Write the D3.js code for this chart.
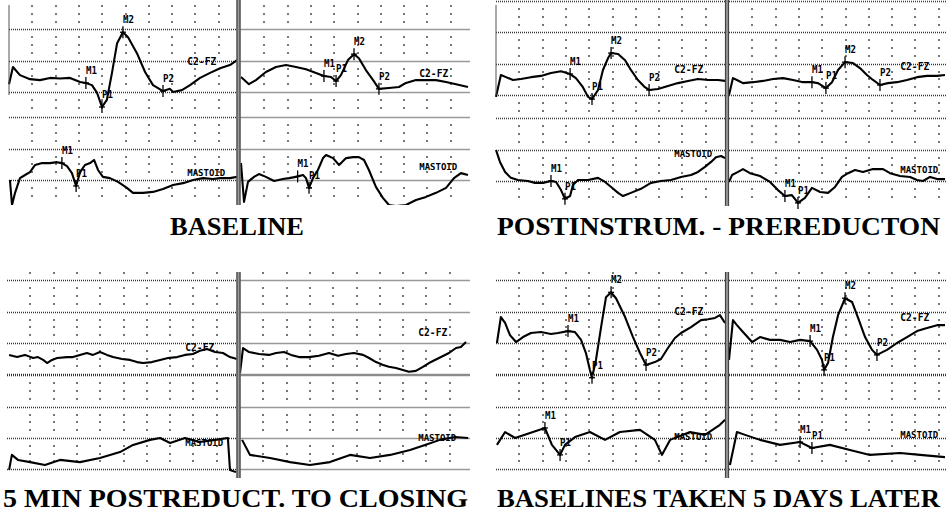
<!DOCTYPE html>
<html><head><meta charset="utf-8">
<script src="https://cdn.jsdelivr.net/npm/d3@7"></script>
<style>body{margin:0;background:#fff}svg{display:block}</style>
</head><body>
<svg id="c" width="946" height="522"></svg>
<script>
// ---------------- DATA (time in ms per half-sweep, amplitude: 10 units = 1 grid division, up = positive) -------------
const panelTitles = ["BASELINE", "POSTINSTRUM. - PREREDUCTON", "5 MIN POSTREDUCT. TO CLOSING", "BASELINES TAKEN 5 DAYS LATER"];
const channelNames = ["C2-FZ", "MASTOID"];

// Panel 1: BASELINE
const baseC2Left = [[0,2.5],[1.7,8.0],[4.7,5.4],[9,4.1],[13.3,3.8],[17.6,4.5],[21.9,4.3],[26.2,4.5],[30.5,3.2],[33,2.9],[35.6,2.2],[37.8,-0.3],[39.9,-4.8],[42,-2.5],[44.2,6.1],[46.4,15.6],[48.9,19.1],[51.1,17.5],[54.9,12.4],[58.4,6.4],[61.8,2.2],[66.1,0.3],[69.1,1.0],[70.4,0],[74.2,0.6],[77.7,2.2],[82,4.5],[86.3,6.1],[90.6,7.6],[94.8,8.6],[97.9,10.2]];
const baseC2Right = [[0,4.8],[3.4,2.5],[6.4,3.8],[10.7,6.4],[15,8.0],[19.3,8.6],[23.6,8.0],[27.9,7.3],[32.2,6.1],[35.6,5.1],[38.6,4.8],[40.8,3.5],[42.9,5.4],[45.9,10.2],[48.5,12.1],[50.6,10.8],[53.6,7.0],[56.7,3.8],[59.2,1.0],[63.5,1.3],[67.8,1.6],[70.8,2.9],[75.1,3.8],[79.4,3.8],[83.7,3.8],[88,3.2],[92.3,2.5],[97.4,1.6]];
const baseMastLeft = [[0.4,0],[1.3,-8],[2.6,-4.1],[4.7,0.6],[6.9,1.6],[9,2.5],[11.2,4.8],[14.2,5.4],[17.6,5.4],[20.6,5.7],[22.7,5.4],[24.9,4.4],[27,2.2],[28.8,-1.9],[30.5,2.5],[32.6,4.8],[34.8,5.4],[36.5,6.4],[38.2,3.2],[40.3,1.0],[43.3,0.6],[46.8,-0.6],[50.6,-2.5],[53.2,-4.1],[57.5,-4.1],[61.8,-3.8],[66.1,-2.9],[70.4,-1.6],[74.7,-1.0],[79,0],[83.3,0.6],[87.6,0.3],[90.6,0.6],[94.8,0.6],[97.9,1.0]];
const baseMastRight = [[0,5.4],[1.3,-7.0],[3,-0.6],[5.6,1.0],[7.7,1.9],[10.7,1.0],[14.2,-0.3],[18,0.3],[20.6,0.6],[23.6,1.0],[26.6,1.6],[27.9,0.6],[29.2,-2.5],[30.9,0.6],[33,3.2],[35.2,7.0],[36.5,8.0],[39.5,7.0],[42.1,4.8],[45.1,7.0],[48.1,7.3],[50.6,7.3],[52.8,6.4],[54.9,3.2],[57.9,-2.2],[60.9,-5.7],[63.5,-8.0],[66.5,-8.3],[70.8,-8.0],[75.1,-6.4],[79.4,-5.4],[83.7,-4.1],[88,-2.5],[91.4,0.6],[94.4,2.2],[97.4,1.6]];

// Panel 2: POSTINSTRUM. - PREREDUCTON
const postC2Left = [[0,-0.6],[2.1,6.4],[4.3,5.7],[7.3,4.8],[10.7,5.1],[15,5.7],[19.3,6.1],[23.6,7.0],[27.9,7.6],[31.8,6.7],[34.3,5.4],[37.3,2.5],[39.5,-0.6],[41.2,-1.3],[43.8,1.6],[45.9,8.0],[48.1,11.8],[49.4,13.4],[52.4,13.1],[55.4,11.1],[57.9,8.0],[60.9,4.8],[63.9,2.5],[65.7,1.6],[69.5,1.9],[73.8,2.9],[78.1,3.8],[82.4,4.5],[86.7,5.1],[91,4.8],[95.3,4.8],[98.3,4.5]];
const postC2Right = [[0,0],[1.7,5.4],[3.4,4.8],[6,3.8],[10.3,4.1],[14.6,4.5],[18.9,5.1],[23.2,5.4],[27.5,4.8],[31.8,4.1],[35.6,4.1],[38.2,3.8],[41.6,2.2],[44.2,4.1],[46.8,8.0],[49.8,10.5],[53.2,10.2],[56.2,8.6],[59.2,6.4],[61.8,4.8],[64.8,3.2],[68.2,3.8],[72.1,4.1],[76.4,4.8],[80.7,5.7],[85,6.1],[89.3,6.1],[92.7,6.4]];
const postMastLeft = [[0,9.9],[1.7,6.1],[3.9,2.9],[6.4,1.0],[9.4,0.3],[13.7,0],[16.7,-0.6],[20.2,-0.6],[23.6,0],[25.8,-0.3],[27.9,-2.9],[29.6,-5.7],[31.8,-4.8],[33,-1.3],[35.2,0.3],[39.5,0.3],[43.8,1.0],[46.8,-0.3],[49.4,-1.9],[52.4,-3.8],[54.5,-4.8],[57.9,-3.8],[62.2,-2.5],[66.5,-0.6],[70.8,0],[75.1,0.3],[79.4,1.3],[83.7,1.9],[86.7,2.9],[89.7,4.5],[92.3,6.1],[94.4,7.6],[96.6,8.0],[98.3,7.3]];
const postMastRight = [[0,-0.3],[1.3,1.9],[3.9,2.9],[6,3.8],[9,2.5],[13.3,1.6],[17.6,-0.3],[21,-2.9],[24,-4.8],[27,-4.5],[29.6,-7.0],[32.6,-5.4],[35.6,-2.2],[39.1,-3.5],[42.5,-3.8],[45.5,-1.9],[48.5,1.3],[51.1,2.5],[54.1,3.5],[57.5,2.9],[61.8,3.8],[66.1,3.8],[69.1,2.5],[73.4,1.6],[77.7,1.3],[80.7,0.3],[83.3,0],[86.3,1.3],[89.3,0.6],[92.7,0.6]];

// Panel 3: 5 MIN POSTREDUCT. TO CLOSING
const closeC2Left = [[0.9,-3.8],[4.3,-4.5],[7.7,-3.8],[11.2,-4.8],[13.3,-4.5],[15.5,-5.4],[17.2,-6.4],[19.3,-5.4],[21.5,-4.8],[25.8,-4.5],[28.3,-4.5],[31.3,-3.8],[34.3,-3.2],[36.9,-3.8],[39.9,-2.9],[42.9,-3.8],[45.5,-4.5],[49.4,-5.1],[52.8,-5.4],[55.8,-6.1],[58.4,-6.4],[62.2,-6.1],[65.7,-5.4],[69.1,-4.8],[73,-4.5],[76.4,-3.8],[79.8,-3.5],[82.8,-2.5],[85.8,-1.9],[89.3,-2.9],[92.7,-3.2],[95.7,-4.5],[98.7,-5.1]];
const closeC2Right = [[0,-9.6],[1.3,-1.6],[3.9,-2.9],[8.2,-3.5],[12.4,-3.8],[15.5,-3.2],[18.9,-2.9],[21.9,-3.8],[25.3,-4.5],[29.6,-4.5],[33.9,-4.1],[38.2,-3.2],[42.1,-4.1],[45.5,-3.5],[48.9,-3.2],[52.8,-3.8],[55.4,-4.8],[58.4,-6.1],[61.4,-7.0],[63.9,-7.6],[66.9,-8.0],[69.9,-8.6],[72.5,-9.2],[75.5,-8.9],[78.5,-7.6],[81.1,-6.4],[85.4,-4.8],[89.7,-3.2],[92.7,-1.6],[94.8,-1.3],[97,0.3]];
const closeMastLeft = [[0.9,-10.2],[2.1,-5.4],[4.7,-7.0],[9.9,-7.7],[16.3,-8.6],[22.7,-7.0],[31.3,-7.7],[39.9,-6.4],[48.5,-4.5],[54.1,-2.2],[61.4,-0.6],[65.7,0],[70,-1.6],[76.4,0],[82.8,-1.3],[89.3,-0.6],[94.8,0],[95.7,-10.2],[98.3,-10.9]];
const closeMastRight = [[0.9,-0.6],[4.3,-5.4],[12.9,-6.4],[21.5,-7.7],[30,-8.6],[38.6,-7.7],[47.2,-5.4],[55.8,-6.4],[64.4,-5.4],[73,-3.8],[79.4,-2.2],[85.8,-0.6],[92.3,0.3],[97.9,0]];

// Panel 4: BASELINES TAKEN 5 DAYS LATER
const laterC2Left = [[0.4,0],[2.1,8.3],[3.9,6.4],[6,2.5],[8.6,0.3],[11.6,1.9],[15,3.2],[19.3,3.5],[23.6,2.9],[26.6,3.2],[30.9,3.8],[33.9,3.5],[36.5,1.0],[38.6,-3.2],[40.3,-8.6],[41.2,-11.1],[42.9,-5.4],[45.1,5.1],[47.2,14.6],[49.4,16.2],[51.5,14.3],[55.4,8.3],[58.8,1.9],[61.8,-3.2],[64.4,-7.0],[68.2,-6.1],[70.8,-5.1],[73.8,-1.6],[76.8,1.6],[79.4,3.2],[83.7,5.1],[88,7.3],[91,7.6],[94,8.0],[96.1,8.9],[98.3,6.4]];
const laterC2Right = [[0,-5.4],[1.7,7.3],[3.4,5.7],[6,3.5],[9.9,0.3],[13.3,1.9],[17.6,1.0],[21.9,1.0],[26.2,0.3],[30.5,1.0],[34.8,0.6],[37.8,-2.2],[39.9,-5.4],[40.8,-8.6],[42.5,-6.4],[44.6,1.9],[46.8,8.9],[49.8,14.3],[52.8,13.1],[55.4,8.0],[58.4,1.9],[61.4,-2.2],[63.5,-3.8],[67.8,-2.2],[72.1,0],[76.4,1.9],[80.7,3.8],[85,4.8],[89.3,5.7],[92.7,5.7]];
const laterMastLeft = [[0.4,-2.2],[3.9,1.9],[8.2,0],[14.6,1.6],[21,3.2],[24,-2.2],[27.5,-5.4],[29.6,-2.2],[33.9,0.3],[40.3,1.9],[46.8,-0.6],[53.2,1.9],[61.8,2.6],[68.2,-0.6],[71.2,-5.4],[74.7,-0.6],[83.3,1.9],[89.7,1.0],[96.1,4.2],[98.3,5.8]];
const laterMastRight = [[0.4,-8.6],[3.4,1.9],[6.9,1.0],[13.3,-0.6],[21.9,-2.2],[30.5,-1.3],[35.6,-3.2],[43.3,-2.2],[51.9,-3.8],[60.5,-5.4],[73.4,-4.8],[82,-5.4],[92.7,-6.1]];

// peak markers: [label, latency ms]
const baseC2LeftPeaks = [["M1",33],["P1",39.9],["M2",48.9],["P2",66.1]];
const baseC2RightPeaks = [["M1",35.6],["P1",40.8],["M2",48.5],["P2",59.2]];
const baseMastLeftPeaks = [["M1",22.7],["P1",28.8]];
const baseMastRightPeaks = [["M1",24.3],["P1",29.2]];
const postC2LeftPeaks = [["M1",31.8],["P1",41.2],["M2",49.4],["P2",65.7]];
const postC2RightPeaks = [["M1",35.6],["P1",41.6],["M2",49.8],["P2",64.8]];
const postMastLeftPeaks = [["M1",23.6],["P1",29.6]];
const postMastRightPeaks = [["M1",24],["P1",29.6]];
const closeC2LeftPeaks = [], closeC2RightPeaks = [], closeMastLeftPeaks = [], closeMastRightPeaks = [];
const laterC2LeftPeaks = [["M1",30.9],["P1",41.2],["M2",49.4],["P2",64.4]];
const laterC2RightPeaks = [["M1",34.8],["P1",40.8],["M2",49.8],["P2",63.5]];
const laterMastLeftPeaks = [["M1",21],["P1",27.5]];
const laterMastRightPeaks = [["M1",30.5],["P1",35.6]];

// ---------------- LAYOUT ----------------
const svg = d3.select("#c");
const HALF_PX = 233, DIV_PX = 31.3;

const panels = [
  { x0:[9,241], end:[236.5,470], divider:238.5, leftEdge:true,
    ch:[{yRef:92,top:0,bottom:117},{yRef:180,top:117,bottom:205}],
    traces:[[baseC2Left,baseC2Right],[baseMastLeft,baseMastRight]],
    peaks:[[baseC2LeftPeaks,baseC2RightPeaks],[baseMastLeftPeaks,baseMastRightPeaks]],
    lblT:[76.5,76.5], lblA:[[8.6,4.8],[1.3,3.2]], title:{x:170,w:134,y:235}, divTop:0, divBot:205 },
  { x0:[496,729], end:[725,946], divider:727, leftEdge:true,
    ch:[{yRef:95,top:0,bottom:118},{yRef:181,top:118,bottom:206}],
    traces:[[postC2Left,postC2Right],[postMastLeft,postMastRight]],
    peaks:[[postC2LeftPeaks,postC2RightPeaks],[postMastLeftPeaks,postMastRightPeaks]],
    lblT:[76.5,73.5], lblA:[[7.0,8.0],[7.7,2.6]], title:{x:497,w:443,y:235}, divTop:0, divBot:206 },
  { x0:[7,240], end:[236.5,470], divider:238.5, leftEdge:false,
    ch:[{yRef:343,top:270,bottom:375},{yRef:438,top:375,bottom:478}],
    traces:[[closeC2Left,closeC2Right],[closeMastLeft,closeMastRight]],
    peaks:[[closeC2LeftPeaks,closeC2RightPeaks],[closeMastLeftPeaks,closeMastRightPeaks]],
    lblT:[76.5,76.5], lblA:[[-2.6,2.2],[-2.6,-1.0]], title:{x:3,w:465,y:507}, divTop:272, divBot:478 },
  { x0:[496,729], end:[725,946], divider:727, leftEdge:false,
    ch:[{yRef:343,top:270,bottom:375},{yRef:438,top:375,bottom:478}],
    traces:[[laterC2Left,laterC2Right],[laterMastLeft,laterMastRight]],
    peaks:[[laterC2LeftPeaks,laterC2RightPeaks],[laterMastLeftPeaks,laterMastRightPeaks]],
    lblT:[76.5,73.5], lblA:[[8.9,7.0],[-0.6,0]], title:{x:497,w:443,y:507}, divTop:272, divBot:478 }
];

function valAt(tr, t){
  const i = d3.bisector(d=>d[0]).right(tr, t);
  if (i<=0) return tr[0][1];
  if (i>=tr.length) return tr[tr.length-1][1];
  const a=tr[i-1], b=tr[i];
  return a[1] + (b[1]-a[1])*(t-a[0])/(b[0]-a[0]);
}

const defs = svg.append("defs");
let clipId = 0;
const LBL_FONT = "DejaVu Sans Mono";

panels.forEach((p, pi) => {
  const g = svg.append("g");
  [0,1].forEach(h => {
    const hx0 = h===0 ? p.x0[0] : p.divider+2;
    const hx1 = h===0 ? p.divider-2 : p.end[1];
    const x = d3.scaleLinear().domain([0,100]).range([p.x0[h], p.x0[h]+HALF_PX]);
    p.ch.forEach((c, ci) => {
      const y = d3.scaleLinear().domain([0,10]).range([c.yRef, c.yRef-DIV_PX]);
      const aMin = y.invert(c.bottom), aMax = y.invert(c.top);
      const majors = d3.range(Math.ceil(aMin/10)*10, aMax+0.01, 10).filter(a => y(a) >= c.top-0.5 && y(a) <= c.bottom+0.5);
      g.selectAll(null).data(majors).enter().append("line")
        .attr("x1", hx0).attr("x2", hx1).attr("y1", a=>Math.round(y(a))+0.5).attr("y2", a=>Math.round(y(a))+0.5)
        .attr("stroke","#333").attr("stroke-width",1.4).attr("stroke-dasharray","1 1");
      const minors = d3.range(Math.ceil(aMin/2.5)*2.5, aMax, 2.5).filter(a => Math.abs(a % 10) > 0.1 && y(a) > c.top+2 && y(a) < c.bottom-2);
      const cols = d3.range(10, 100, 10).filter(t => x(t) < hx1-3);
      const dots = [];
      cols.forEach(t => minors.forEach(a => dots.push([t,a])));
      g.selectAll(null).data(dots).enter().append("rect")
        .attr("x", d=>Math.round(x(d[0]))-1).attr("y", d=>Math.round(y(d[1]))-1).attr("width",2).attr("height",2)
        .attr("fill","#777");
      const id = "clip"+(clipId++);
      defs.append("clipPath").attr("id", id).append("rect")
        .attr("x", hx0-1).attr("y", c.top)
        .attr("width", hx1-hx0+2).attr("height", c.bottom - c.top + (ci===0 ? 5 : 0));
      const tr = p.traces[ci][h];
      const line = d3.line().x(d=>x(d[0])).y(d=>y(d[1]));
      g.append("path").datum(tr).attr("d", line).attr("clip-path", `url(#${id})`)
        .attr("fill","none").attr("stroke","#000").attr("stroke-width",2.1).attr("stroke-linejoin","round");
      const pk = p.peaks[ci][h];
      pk.forEach(([lab, t]) => {
        const px = x(t), py = y(valAt(tr, t));
        g.append("line").attr("x1",px).attr("x2",px).attr("y1",py-6).attr("y2",py+6).attr("stroke","#000").attr("stroke-width",1.3);
        g.append("line").attr("x1",px-3).attr("x2",px+3).attr("y1",py).attr("y2",py).attr("stroke","#000").attr("stroke-width",1.3);
        g.append("text").attr("x",px).attr("y",py-9).text(lab)
          .attr("font-family",LBL_FONT).attr("font-weight","bold").attr("font-size",11).attr("fill","#000")
          .attr("textLength", 11).attr("lengthAdjust","spacingAndGlyphs");
      });
      g.append("text").attr("x", x(p.lblT[h])).attr("y", y(p.lblA[ci][h])).text(channelNames[ci])
        .attr("font-family",LBL_FONT).attr("font-weight","bold").attr("font-size", ci===0 ? 11 : 9.5)
        .attr("fill","#000").attr("textLength", ci===0 ? 29 : 38).attr("lengthAdjust","spacingAndGlyphs");
    });
  });
  g.append("rect").attr("x", p.divider-2).attr("y", p.divTop).attr("width",4).attr("height", p.divBot-p.divTop).attr("fill","#9a9a9a");
  [-1.5, 1.5].forEach(o => g.append("line").attr("x1",p.divider+o).attr("x2",p.divider+o)
    .attr("y1",p.divTop).attr("y2",p.divBot).attr("stroke","#444").attr("stroke-width",1.2));
  if (p.leftEdge) {
    g.append("line").attr("x1",p.x0[0]).attr("x2",p.x0[0]).attr("y1",5).attr("y2",95)
      .attr("stroke","#555").attr("stroke-width",1);
  }
  svg.append("text").attr("x", p.title.x).attr("y", p.title.y).text(panelTitles[pi])
    .attr("font-family","Liberation Serif").attr("font-weight","bold").attr("font-size",26)
    .attr("textLength", p.title.w).attr("lengthAdjust","spacingAndGlyphs").attr("fill","#000");
});
</script>
</body></html>
